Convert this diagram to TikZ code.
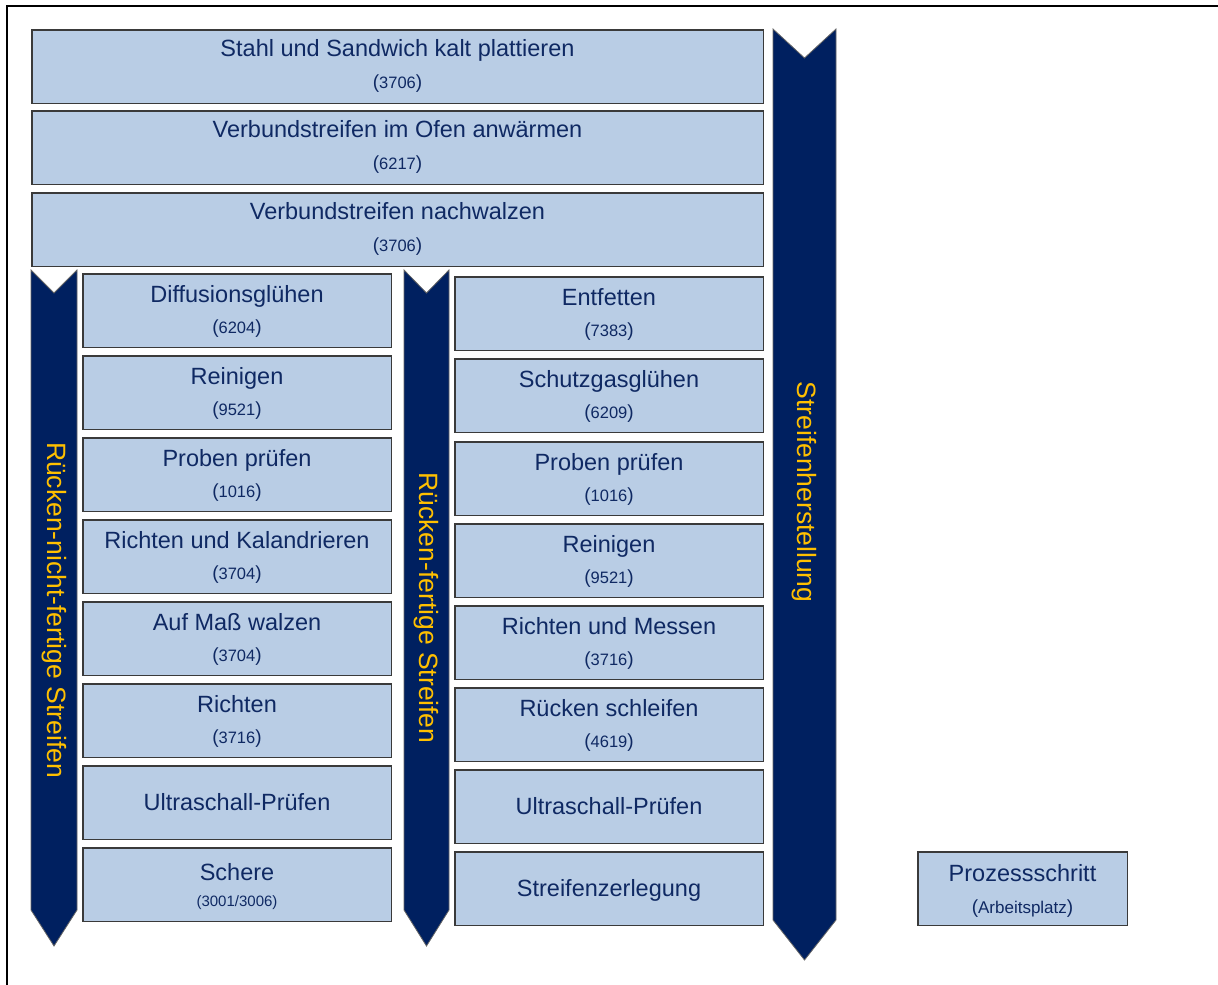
\documentclass[tikz,border=0pt]{standalone}
\usepackage{fontspec}
\setmainfont{Liberation Sans}
\definecolor{boxfill}{HTML}{B9CDE5}
\definecolor{boxline}{HTML}{3A3A3A}
\definecolor{navy}{HTML}{002060}
\definecolor{gold}{HTML}{FFC000}
\definecolor{txt}{HTML}{0F2963}
\newcommand\ttlfont{\fontsize{23.5}{26}\selectfont}
\newcommand\prnfont{\fontsize{19}{22}\selectfont}
\newcommand\digfont{\fontsize{16.5}{20}\selectfont}
\newcommand\smallfont{\fontsize{15}{18}\selectfont}
\newcommand\numtxt[1]{{\prnfont(}{\digfont #1}{\prnfont)}}
\tikzset{
  procbox/.style={draw=boxline, fill=boxfill, line width=1.5pt, inner sep=0pt,
    anchor=north west, minimum height=73.5pt},
  titletext/.style={anchor=base, inner sep=0pt, text=txt, font=\ttlfont},
  numtext/.style={anchor=base, inner sep=0pt, text=txt},
  chevron/.style={fill=navy, draw=black!60, line width=0.8pt},
  chevlabel/.style={text=gold, font=\fontsize{26.5}{30}\selectfont, rotate=-90, inner sep=0pt},
}
% name, x, y, width, title, number, title offset, number offset
\newcommand\stepbox[8]{%
  \node[procbox, minimum width=#4pt] (#1) at (#2,#3) {};
  \node[titletext] (#1-t) at ([yshift=-#7pt]#1.north) {#5};
  \node[numtext] (#1-n) at ([yshift=-#8pt]#1.north) {#6};
}
\newcommand\onebox[5]{%
  \node[procbox, minimum width=#4pt] (#1) at (#2,#3) {};
  \node[titletext] (#1-t) at ([yshift=-45pt]#1.north) {#5};
}
\begin{document}
\begin{tikzpicture}[x=1pt,y=-1pt]
\useasboundingbox (0,0) rectangle (1218,985);
% frame
\draw[line width=1.5pt] (7,985) -- (7,6) -- (1218,6);

% chevrons
\draw[chevron] (31,270) -- (54,293) -- (77,270) -- (77,910) -- (54,946) -- (31,910) -- cycle;
\draw[chevron] (404,270) -- (426.5,293) -- (449,270) -- (449,910) -- (426.5,946) -- (404,910) -- cycle;
\draw[chevron] (773,29) -- (804.5,58) -- (836,29) -- (836,920) -- (804.5,960) -- (773,920) -- cycle;
\node[chevlabel] (labL) at (54,610) {Rücken-nicht-fertige Streifen};
\node[chevlabel] (labM) at (426.5,608) {Rücken-fertige Streifen};
\node[chevlabel] (labR) at (804.5,492) {Streifenherstellung};

% top boxes
\stepbox{t1}{31}{29}{731.5}{Stahl und Sandwich kalt plattieren}{\numtxt{3706}}{27}{59.5}
\stepbox{t2}{31}{110}{731.5}{Verbundstreifen im Ofen anwärmen}{\numtxt{6217}}{27}{59.5}
\stepbox{t3}{31}{192}{731.5}{Verbundstreifen nachwalzen}{\numtxt{3706}}{27}{59.5}

% left column
\stepbox{l1}{82}{273}{308.5}{Diffusionsglühen}{\numtxt{6204}}{29.5}{60.5}
\stepbox{l2}{82}{355}{308.5}{Reinigen}{\numtxt{9521}}{29.5}{60.5}
\stepbox{l3}{82}{437}{308.5}{Proben prüfen}{\numtxt{1016}}{29.5}{60.5}
\stepbox{l4}{82}{519}{308.5}{Richten und Kalandrieren}{\numtxt{3704}}{29.5}{60.5}
\stepbox{l5}{82}{601}{308.5}{Auf Maß walzen}{\numtxt{3704}}{29.5}{60.5}
\stepbox{l6}{82}{683}{308.5}{Richten}{\numtxt{3716}}{29.5}{60.5}
\onebox{l7}{82}{765}{308.5}{Ultraschall-Prüfen}
\stepbox{l8}{82}{847}{308.5}{Schere}{\smallfont(3001/3006)}{33}{59}

% right column
\stepbox{r1}{454}{276}{308.5}{Entfetten}{\numtxt{7383}}{29.5}{60.5}
\stepbox{r2}{454}{358}{308.5}{Schutzgasglühen}{\numtxt{6209}}{29.5}{60.5}
\stepbox{r3}{454}{441}{308.5}{Proben prüfen}{\numtxt{1016}}{29.5}{60.5}
\stepbox{r4}{454}{523}{308.5}{Reinigen}{\numtxt{9521}}{29.5}{60.5}
\stepbox{r5}{454}{605}{308.5}{Richten und Messen}{\numtxt{3716}}{29.5}{60.5}
\stepbox{r6}{454}{687}{308.5}{Rücken schleifen}{\numtxt{4619}}{29.5}{60.5}
\onebox{r7}{454}{769}{308.5}{Ultraschall-Prüfen}
\onebox{r8}{454}{851}{308.5}{Streifenzerlegung}

% legend
\stepbox{leg}{917}{851}{209.5}{Prozessschritt}{{\prnfont(}{\fontsize{17}{20}\selectfont Arbeitsplatz}{\prnfont)}}{30}{62}
\end{tikzpicture}
\end{document}
